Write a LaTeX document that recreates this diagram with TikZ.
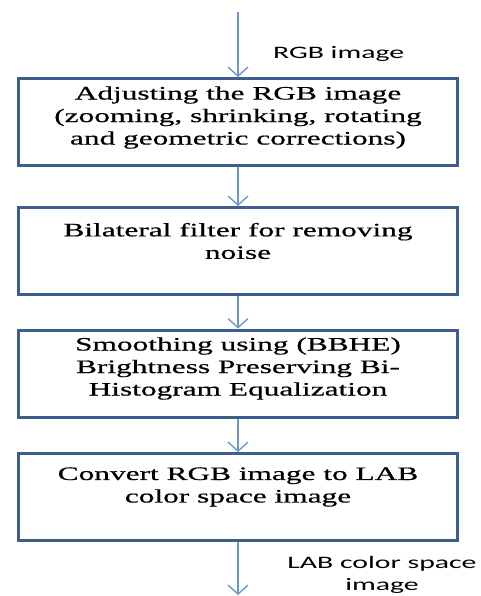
\documentclass[tikz,border=0pt]{standalone}
\usepackage{fontspec}
\setmainfont{Liberation Serif}[FakeStretch=1.65,FakeBold=0.6]
\newfontfamily\lblfont{Carlito}[FakeStretch=1.7]
\usetikzlibrary{arrows.meta}
\definecolor{boxblue}{RGB}{62,94,140}
\definecolor{arrblue}{RGB}{110,152,204}
\tikzset{
  stepbox/.style={draw=boxblue, line width=3pt, fill=white, minimum width=439.5pt, minimum height=87pt, inner sep=0pt},
  steptext/.style={align=center, font=\fontsize{19}{22.5}\selectfont, inner sep=0pt},
  flow/.style={draw=arrblue, line width=1.4pt, -{Straight Barb[length=9pt,width=20pt,line width=1.4pt]}},
  lbl/.style={align=center, font=\lblfont\fontsize{17.5}{22}\selectfont, inner sep=0pt}
}
\begin{document}
\begin{tikzpicture}[x=1pt,y=-1pt]
\useasboundingbox (0,0) rectangle (480,596);
\node[stepbox] (b1) at (238,122) {};
\node[stepbox] (b2) at (238,251) {};
\node[stepbox] (b3) at (238,373.5) {};
\node[stepbox] (b4) at (238,497) {};
\node[steptext] (t1) at (238,117.5) {Adjusting the RGB image\\(zooming, shrinking, rotating\\and geometric corrections)};
\node[steptext] (t2) at (238,241) {Bilateral filter for removing\\noise};
\node[steptext] (t3) at (238,368.5) {Smoothing using (BBHE)\\Brightness Preserving Bi-\\Histogram Equalization};
\node[steptext] (t4) at (238,487) {Convert RGB image to LAB\\color space image};
\coordinate (in) at (238,12);
\coordinate (out) at (238,595);
\draw[flow] (in) -- (b1.north);
\draw[flow] (b1.south) -- (b2.north);
\draw[flow] (b2.south) -- (b3.north);
\draw[flow] (b3.south) -- (b4.north);
\draw[flow] (b4.south) -- (out);
\node[lbl, anchor=west] (l1) at (273,54) {RGB image};
\node[lbl] (l2) at (382,575) {LAB color space\\image};
\end{tikzpicture}
\end{document}
